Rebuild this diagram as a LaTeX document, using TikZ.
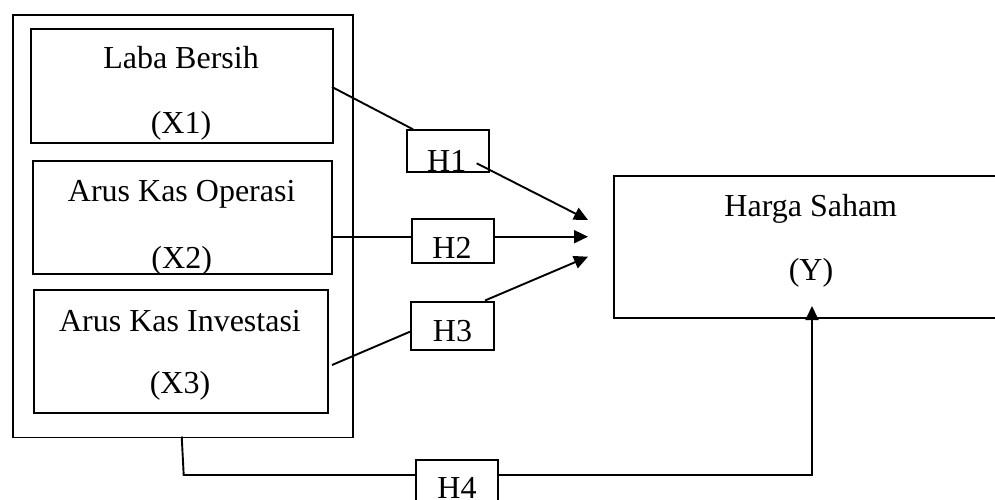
\documentclass[tikz,border=0pt]{standalone}
\usepackage{fontspec}
\setmainfont{Liberation Serif}
\usetikzlibrary{arrows.meta}
\begin{document}
\begin{tikzpicture}[x=1pt,y=-1pt,
  box/.style={draw,line width=1.9pt,rectangle,inner sep=0pt,anchor=north west},
  lbl/.style={anchor=base,inner sep=0pt,font=\fontsize{32}{38}\selectfont},
  conn/.style={line width=1.9pt},
  arr/.style={line width=1.9pt,-{Triangle[length=14pt,width=13pt]}}]
\useasboundingbox (0,0) rectangle (995,499);
\clip (0,0) rectangle (995,499);
% outer group box
\node[box,minimum width=340pt,minimum height=422.5pt] (outer) at (12,14) {};
% inner boxes
\node[box,minimum width=302pt,minimum height=114pt] (bx1) at (30,28) {};
\node[box,minimum width=299pt,minimum height=113pt] (bx2) at (32,160) {};
\node[box,minimum width=294pt,minimum height=123pt] (bx3) at (33,289) {};
\node[lbl] (t1a) at (181,68) {Laba Bersih};
\node[lbl] (t1b) at (181,133) {(X1)};
\node[lbl] (t2a) at (181.7,201.7) {Arus Kas Operasi};
\node[lbl] (t2b) at (181.7,268) {(X2)};
\node[lbl] (t3a) at (180,331.7) {Arus Kas Investasi};
\node[lbl] (t3b) at (180,393.3) {(X3)};
% hypothesis boxes
\node[box,minimum width=82pt,minimum height=41.7pt] (h1) at (405.7,129.3) {};
\node[box,minimum width=82.3pt,minimum height=44.6pt] (h2) at (410.7,217.7) {};
\node[box,minimum width=83.3pt,minimum height=48.6pt] (h3) at (410,300.7) {};
\node[box,minimum width=82.3pt,minimum height=60pt] (h4) at (415,459.3) {};
\node[lbl] (th1) at (446.7,171.7) {H1};
\node[lbl] (th2) at (452,258.3) {H2};
\node[lbl] (th3) at (452.5,341.7) {H3};
\node[lbl] (th4) at (457,498.5) {H4};
% dependent box
\node[box,minimum width=400pt,minimum height=141.7pt] (ybox) at (613.3,175) {};
\node[lbl] (ty1) at (810.8,216) {Harga Saham};
\node[lbl] (ty2) at (811,280) {(Y)};
% connector points
\coordinate (p1a) at (332,87);
\coordinate (p1b) at (413,129.3);
\coordinate (p1c) at (476.7,163.3);
\coordinate (tip1) at (588,220);
\coordinate (p2a) at (331,236.7);
\coordinate (p2b) at (410.7,236.7);
\coordinate (p2c) at (493,236.7);
\coordinate (tip2) at (588,236.7);
\coordinate (p3a) at (332,365);
\coordinate (p3b) at (410,331.7);
\coordinate (p3c) at (485,300.5);
\coordinate (tip3) at (588,256.7);
\coordinate (p4a) at (181.7,436.5);
\coordinate (p4b) at (183.7,475);
\coordinate (p4c) at (415,475);
\coordinate (p4d) at (497.3,475);
\coordinate (p4e) at (812,475);
\coordinate (tip4) at (812,306);
% connectors
\draw[conn] (p1a) -- (p1b);
\draw[arr] (p1c) -- (tip1);
\draw[conn] (p2a) -- (p2b);
\draw[arr] (p2c) -- (tip2);
\draw[conn] (p3a) -- (p3b);
\draw[arr] (p3c) -- (tip3);
\draw[conn] (p4a) -- (p4b) -- (p4c);
\draw[arr] (p4d) -- (p4e) -- (tip4);
\end{tikzpicture}
\end{document}
